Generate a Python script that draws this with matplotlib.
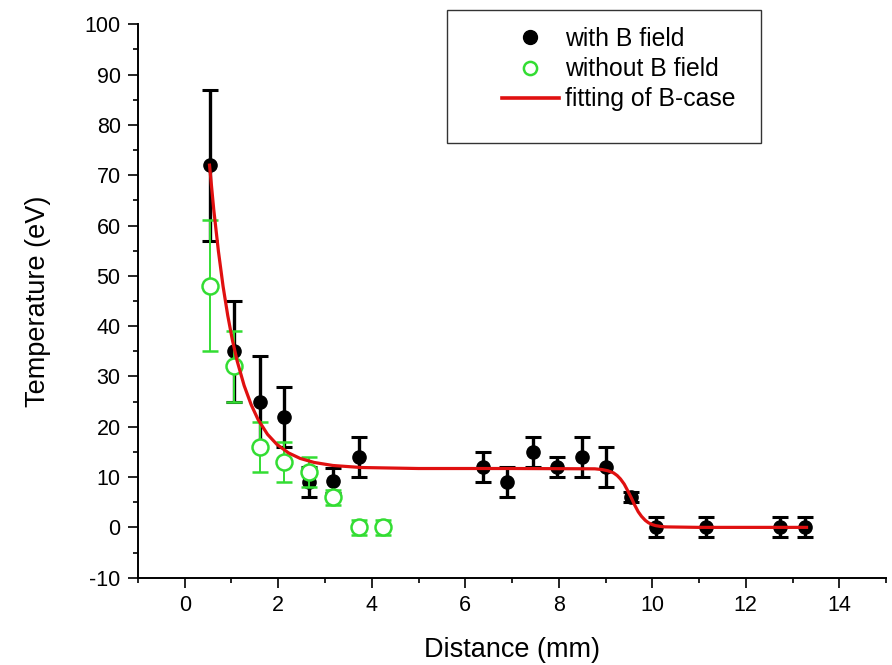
import matplotlib
matplotlib.use("Agg")
import matplotlib.pyplot as plt
from matplotlib.lines import Line2D
from matplotlib.patches import Rectangle
from matplotlib.ticker import MultipleLocator

plt.rcParams["font.family"] = ["Liberation Sans", "DejaVu Sans"]
plt.rcParams["axes.unicode_minus"] = False

# with B field
b_x = [0.53, 1.06, 1.60, 2.12, 2.66, 3.18, 3.72, 6.37, 6.90, 7.44, 7.96, 8.49, 9.01, 9.55, 10.07, 11.15, 12.74, 13.26]
b_y = [72, 35, 25, 22, 9, 9.3, 14, 12, 9, 15, 12, 14, 12, 6, 0, 0, 0, 0]
b_err = [15, 10, 9, 6, 3, 2.5, 4, 3, 3, 3, 2, 4, 4, 1, 2, 2, 2, 2]

# without B field
nob_x = [0.53, 1.06, 1.60, 2.12, 2.66, 3.18, 3.72, 4.25]
nob_y = [48, 32, 16, 13, 11, 6, 0, 0]
nob_err = [13, 7, 5, 4, 3, 1.5, 1.5, 1.5]

# fitted curve (B case)
fit_x = [0.53, 0.62, 0.72, 0.82, 0.92, 1.02, 1.12, 1.27, 1.42, 1.57, 1.77, 1.97,
         2.22, 2.47, 2.77, 3.17, 3.77, 5.0, 7.0, 8.77, 8.92, 9.05, 9.17, 9.25,
         9.32, 9.40, 9.47, 9.55, 9.62, 9.70, 9.77, 9.85, 9.92, 10.0, 10.07,
         10.17, 10.27, 11.0, 13.30]
fit_y = [72.0, 63.2, 54.9, 47.9, 42.1, 37.2, 33.1, 28.2, 24.4, 21.4, 18.5, 16.5,
         14.8, 13.7, 12.9, 12.3, 11.9, 11.7, 11.7, 11.64, 11.5, 11.25, 10.84, 10.3,
         9.62, 8.6, 7.37, 5.9, 4.51, 3.1, 2.19, 1.4, 0.91, 0.55, 0.35,
         0.2, 0.1, 0.0, 0.0]

green = "#33dd33"
red = "#e01010"

fig = plt.figure(figsize=(8.92, 6.65), dpi=100)
ax = fig.add_axes([0.1547, 0.1313, 0.8386, 0.8322])

ax.errorbar(b_x, b_y, yerr=b_err, fmt="o", color="black", ms=9.5,
            elinewidth=2.4, capsize=5.6, capthick=2.2, zorder=2)
ax.errorbar(nob_x, nob_y, yerr=nob_err, fmt="o", color=green, mfc="white",
            ms=11.5, mew=1.8, elinewidth=1.4, capsize=6, capthick=1.6, zorder=3)
ax.plot(fit_x, fit_y, color=red, lw=2.3, zorder=4)

ax.set_xlim(-1, 15)
ax.set_ylim(-10, 100)
ax.xaxis.set_major_locator(MultipleLocator(2))
ax.xaxis.set_minor_locator(MultipleLocator(1))
ax.yaxis.set_major_locator(MultipleLocator(10))
ax.yaxis.set_minor_locator(MultipleLocator(5))

for side in ["top", "right"]:
    ax.spines[side].set_visible(False)
for side in ["left", "bottom"]:
    ax.spines[side].set_linewidth(1.4)

ax.tick_params(which="major", direction="out", length=7.5, width=1.2, labelsize=15.5, pad=5)
ax.tick_params(which="minor", direction="out", length=3.8, width=1.2)

ax.set_xlabel("Distance (mm)", fontsize=19.5, labelpad=15)
ax.set_ylabel("Temperature (eV)", fontsize=19.5, labelpad=24)

# legend box
fig.patches.append(Rectangle((447 / 892, 1 - 143 / 665), 314 / 892, 133 / 665,
                             transform=fig.transFigure, fill=False,
                             edgecolor="#333333", lw=1.0))
handles = [
    Line2D([], [], ls="none", marker="o", color="black", ms=10),
    Line2D([], [], ls="none", marker="o", color=green, mfc="white", ms=9.5, mew=1.8),
    Line2D([], [], color=red, lw=2.6),
]
labels = ["with B field", "without B field", "fitting of B-case"]
fig.legend(handles, labels, loc="upper left", bbox_to_anchor=(502 / 892, 1 - 27 / 665),
           frameon=False, fontsize=17.8, handlelength=2.3, handletextpad=0.25,
           labelspacing=0.25, borderpad=0, borderaxespad=0)

fig.savefig("out.png", dpi=100)
